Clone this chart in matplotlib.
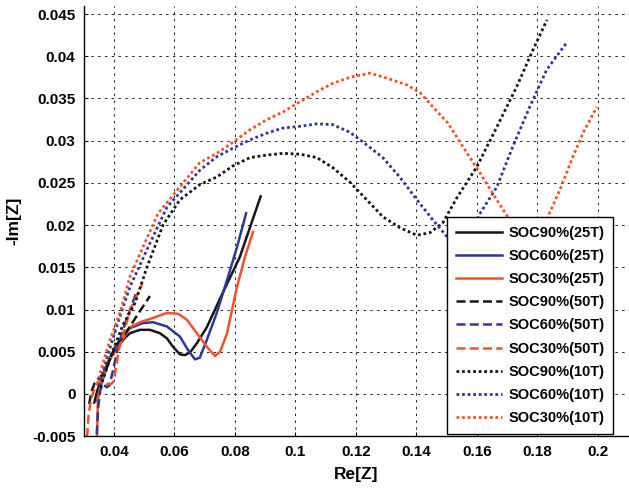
import matplotlib
matplotlib.use("Agg")
import matplotlib.pyplot as plt

plt.rcParams['font.family'] = ['Liberation Sans', 'DejaVu Sans']
plt.rcParams['font.weight'] = 'bold'

# ---- impedance spectra (Re[Z], -Im[Z]) ----
# 25T
x90_25 = [0.0335, 0.0345, 0.0360, 0.0380, 0.0410, 0.0435, 0.0453, 0.0486, 0.0519, 0.0552,
          0.0575, 0.0595, 0.0618, 0.0634, 0.0651, 0.0674, 0.0707, 0.0760, 0.0816, 0.0885]
y90_25 = [-0.0010, 0.0004, 0.0020, 0.0038, 0.0055, 0.0066, 0.0072, 0.0076, 0.0076, 0.0072,
          0.0066, 0.0056, 0.0047, 0.0046, 0.0049, 0.0060, 0.0079, 0.0120, 0.0162, 0.0234]

x60_25 = [0.0345, 0.0355, 0.0370, 0.0390, 0.0420, 0.0453, 0.0496, 0.0529, 0.0575, 0.0618,
          0.0645, 0.0668, 0.0684, 0.0707, 0.0740, 0.0774, 0.0807, 0.0837]
y60_25 = [-0.0008, 0.0008, 0.0025, 0.0045, 0.0065, 0.0078, 0.0084, 0.0085, 0.0080, 0.0068,
          0.0052, 0.0041, 0.0043, 0.0064, 0.0096, 0.0135, 0.0174, 0.0214]

x30_25 = [0.0344, 0.0347, 0.0360, 0.0380, 0.0427, 0.0453, 0.0486, 0.0529, 0.0575, 0.0612,
          0.0641, 0.0674, 0.0707, 0.0734, 0.0751, 0.0774, 0.0807, 0.0833, 0.0860]
y30_25 = [-0.0050, -0.0004, 0.0017, 0.0037, 0.0064, 0.0079, 0.0085, 0.0090, 0.0096, 0.0095,
          0.0088, 0.0072, 0.0056, 0.0045, 0.0050, 0.0072, 0.0127, 0.0162, 0.0192]

# 50T
x90_50 = [0.0318, 0.0325, 0.0335, 0.0348, 0.0360, 0.0375, 0.0390, 0.0410, 0.0435, 0.0453,
          0.0480, 0.0519]
y90_50 = [-0.0012, 0.0002, 0.0012, 0.0018, 0.0022, 0.0030, 0.0045, 0.0058, 0.0070, 0.0080,
          0.0095, 0.0116]

x60_50 = [0.0343, 0.0348, 0.0355, 0.0365, 0.0375, 0.0385, 0.0395, 0.0410, 0.0425, 0.0445, 0.0477]
y60_50 = [-0.0048, -0.0015, 0.0005, 0.0012, 0.0008, 0.0010, 0.0025, 0.0050, 0.0070, 0.0092, 0.0123]

x30_50 = [0.0311, 0.0316, 0.0325, 0.0338, 0.0352, 0.0365, 0.0378, 0.0392, 0.0400, 0.0408,
          0.0418, 0.0432, 0.0453, 0.0493]
y30_50 = [-0.0051, -0.0025, -0.0005, 0.0008, 0.0015, 0.0016, 0.0012, 0.0012, 0.0016, 0.0035,
          0.0055, 0.0072, 0.0099, 0.0130]

# 10T
x90_10 = [0.0355, 0.0370, 0.0395, 0.0430, 0.0470, 0.0509, 0.0562, 0.0618, 0.0684, 0.0740,
          0.0793, 0.0850, 0.0906, 0.0959, 0.1015, 0.1071, 0.1124, 0.1180, 0.1236, 0.1289,
          0.1345, 0.1402, 0.1445, 0.1488, 0.1535, 0.1600, 0.1666, 0.1732, 0.1785, 0.1832]
y90_10 = [0.0008, 0.0024, 0.0050, 0.0082, 0.0108, 0.0150, 0.0200, 0.0230, 0.0248, 0.0257,
          0.0270, 0.0280, 0.0283, 0.0285, 0.0284, 0.0280, 0.0268, 0.0251, 0.0230, 0.0210,
          0.0197, 0.0188, 0.0191, 0.0203, 0.0233, 0.0269, 0.0316, 0.0364, 0.0407, 0.0443]

x60_10 = [0.0350, 0.0365, 0.0390, 0.0420, 0.0453, 0.0513, 0.0575, 0.0684, 0.0740, 0.0793,
          0.0850, 0.0906, 0.0959, 0.1015, 0.1071, 0.1124, 0.1180, 0.1236, 0.1289, 0.1345,
          0.1402, 0.1455, 0.1502, 0.1540, 0.1575, 0.1611, 0.1666, 0.1719, 0.1775, 0.1831, 0.1897]
y60_10 = [0.0010, 0.0028, 0.0058, 0.0092, 0.0127, 0.0174, 0.0221, 0.0265, 0.0281, 0.0291,
          0.0301, 0.0309, 0.0315, 0.0317, 0.0320, 0.0319, 0.0310, 0.0295, 0.0280, 0.0257,
          0.0230, 0.0206, 0.0186, 0.0176, 0.0188, 0.0214, 0.0245, 0.0293, 0.0340, 0.0384, 0.0416]

x30_10 = [0.0345, 0.0360, 0.0387, 0.0420, 0.0453, 0.0496, 0.0546, 0.0684, 0.0740, 0.0793,
          0.0850, 0.0906, 0.0959, 0.1015, 0.1071, 0.1124, 0.1180, 0.1247, 0.1303, 0.1369,
          0.1412, 0.1455, 0.1504, 0.1554, 0.1610, 0.1666, 0.1720, 0.1760, 0.1790, 0.1812,
          0.1835, 0.1875, 0.1918, 0.1951, 0.1997]
y30_10 = [0.0012, 0.0032, 0.0064, 0.0096, 0.0139, 0.0174, 0.0214, 0.0274, 0.0285, 0.0298,
          0.0313, 0.0325, 0.0334, 0.0346, 0.0358, 0.0368, 0.0375, 0.0380, 0.0374, 0.0366,
          0.0357, 0.0340, 0.0321, 0.0293, 0.0262, 0.0230, 0.0200, 0.0180, 0.0176, 0.0188,
          0.0210, 0.0242, 0.0281, 0.0309, 0.0340]

labels = ['SOC90%(25T)', 'SOC60%(25T)', 'SOC30%(25T)',
          'SOC90%(50T)', 'SOC60%(50T)', 'SOC30%(50T)',
          'SOC90%(10T)', 'SOC60%(10T)', 'SOC30%(10T)']

x_ticks = [0.04, 0.06, 0.08, 0.1, 0.12, 0.14, 0.16, 0.18, 0.2]
x_ticklabels = ['0.04', '0.06', '0.08', '0.1', '0.12', '0.14', '0.16', '0.18', '0.2']
y_ticks = [-0.005, 0, 0.005, 0.01, 0.015, 0.02, 0.025, 0.03, 0.035, 0.04, 0.045]
y_ticklabels = ['-0.005', '0', '0.005', '0.01', '0.015', '0.02', '0.025', '0.03',
                '0.035', '0.04', '0.045']

BLACK = '#161616'
BLUE = '#2b3896'
ORANGE = '#f2522a'

series = [
    (x90_25, y90_25, BLACK, 'solid'),
    (x60_25, y60_25, BLUE, 'solid'),
    (x30_25, y30_25, ORANGE, 'solid'),
    (x90_50, y90_50, BLACK, 'dashed'),
    (x60_50, y60_50, BLUE, 'dashed'),
    (x30_50, y30_50, ORANGE, 'dashed'),
    (x90_10, y90_10, BLACK, 'dotted'),
    (x60_10, y60_10, BLUE, 'dotted'),
    (x30_10, y30_10, ORANGE, 'dotted'),
]

fig = plt.figure(figsize=(6.29, 4.91), dpi=100)
ax = fig.add_axes([0.1331, 0.1116, 0.8653, 0.8770])

for (xs, ys, col, style), lab in zip(series, labels):
    if style == 'solid':
        ax.plot(xs, ys, color=col, lw=1.8, label=lab, solid_joinstyle='round')
    elif style == 'dashed':
        ax.plot(xs, ys, color=col, lw=1.8, linestyle=(0, (3.6, 1.7)), label=lab)
    else:
        ax.plot(xs, ys, color=col, lw=2.0, linestyle=(0, (1.0, 1.0)), label=lab)

ax.set_xlim(0.03, 0.21)
ax.set_ylim(-0.005, 0.046)
ax.set_xticks(x_ticks)
ax.set_xticklabels(x_ticklabels)
ax.set_yticks(y_ticks)
ax.set_yticklabels(y_ticklabels)

ax.tick_params(direction='in', length=3, width=0.8, labelsize=11, pad=6)
for lab in ax.get_xticklabels() + ax.get_yticklabels():
    lab.set_fontweight('bold')

ax.grid(True, color='#222222', lw=0.7, linestyle=(0, (2.5, 4.5)))
ax.set_axisbelow(True)

for side in ('top', 'right'):
    ax.spines[side].set_visible(False)
for side in ('left', 'bottom'):
    ax.spines[side].set_linewidth(1.0)
    ax.spines[side].set_color('black')

ax.set_xlabel('Re[Z]', fontsize=12.5, fontweight='bold', labelpad=6)
ax.set_ylabel('-Im[Z]', fontsize=12.5, fontweight='bold', labelpad=8)

leg = ax.legend(loc='upper left', bbox_to_anchor=(447 / 629, 1 - 217 / 491),
                bbox_transform=fig.transFigure, borderaxespad=0,
                prop={'weight': 'bold', 'size': 10.5},
                handlelength=3.2, handletextpad=0.4, labelspacing=0.63,
                borderpad=0.6, fancybox=False, framealpha=1, edgecolor='black')
leg.get_frame().set_linewidth(1.0)

fig.savefig('out.png', dpi=100)
